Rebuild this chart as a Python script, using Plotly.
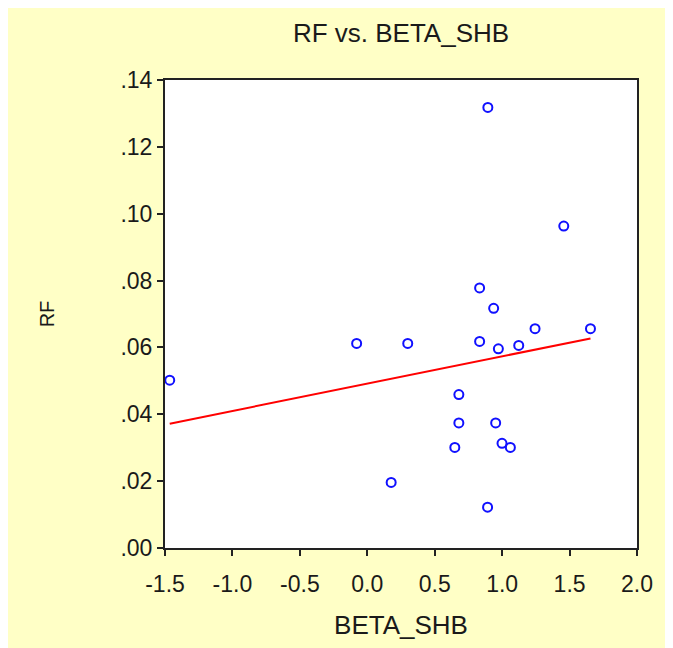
import plotly.graph_objects as go

# Data
beta_shb = [0.894, 1.457, 0.833, 0.937, 1.244, 1.655, -0.079, 0.300, 0.833, 0.972,
            1.123, 0.679, 0.679, 0.952, 0.649, 0.999, 1.061, 0.177, 0.892, -1.465]
rf = [0.1318, 0.0963, 0.0778, 0.0717, 0.0656, 0.0656, 0.0612, 0.0612, 0.0618, 0.0596,
      0.0606, 0.0459, 0.0374, 0.0374, 0.0301, 0.0313, 0.0301, 0.0196, 0.0122, 0.0502]

# Fitted regression line endpoints
fit_x = [-1.465, 1.655]
fit_y = [0.0372, 0.0627]

x_ticks = [-1.5, -1.0, -0.5, 0.0, 0.5, 1.0, 1.5, 2.0]
x_ticktext = ["-1.5", "-1.0", "-0.5", "0.0", "0.5", "1.0", "1.5", "2.0"]
y_ticks = [0.00, 0.02, 0.04, 0.06, 0.08, 0.10, 0.12, 0.14]
y_ticktext = [".00", ".02", ".04", ".06", ".08", ".10", ".12", ".14"]

FONT = "Liberation Sans, Arial, sans-serif"
W, H = 673, 648
BG = "#FFFFC6"
TXT = "#1a1a1a"

fig = go.Figure()
fig.add_trace(go.Scatter(
    x=beta_shb, y=rf, mode="markers",
    marker=dict(symbol="circle-open", size=9, color="#1010FF", line=dict(width=2, color="#1010FF")),
    showlegend=False, cliponaxis=False,
))
fig.add_trace(go.Scatter(
    x=fit_x, y=fit_y, mode="lines",
    line=dict(color="#FF0000", width=2),
    showlegend=False,
))

fig.update_layout(
    width=W, height=H,
    margin=dict(l=157, r=44, t=72, b=108),
    paper_bgcolor=BG,
    plot_bgcolor="white",
    font=dict(family=FONT, color=TXT),
    title=dict(text="RF vs. BETA_SHB", x=393 / W, xanchor="center",
               y=1 - 25 / H, yanchor="middle", yref="container",
               font=dict(size=26, family=FONT, color=TXT)),
)
fig.update_xaxes(
    range=[-1.5, 2.0], tickvals=x_ticks, ticktext=x_ticktext,
    showgrid=False, zeroline=False,
    showline=True, linecolor="#222222", linewidth=2, mirror=True,
    ticks="outside", ticklen=6, tickwidth=2, tickcolor="#222222",
    ticklabelstandoff=8,
    tickfont=dict(size=23, family=FONT, color=TXT),
    title=dict(text="BETA_SHB", font=dict(size=26, family=FONT, color=TXT), standoff=20),
)
fig.update_yaxes(
    range=[0.0, 0.14], tickvals=y_ticks, ticktext=y_ticktext,
    showgrid=False, zeroline=False,
    showline=True, linecolor="#222222", linewidth=2, mirror=True,
    ticks="outside", ticklen=6, tickwidth=2, tickcolor="#222222",
    tickfont=dict(size=23, family=FONT, color=TXT),
    title=dict(text="RF", font=dict(size=20, family=FONT, color=TXT), standoff=60),
)

fig.write_html("out.html")
